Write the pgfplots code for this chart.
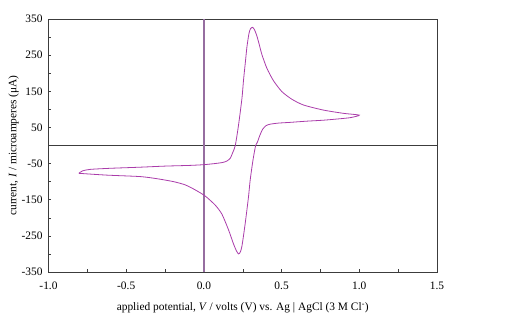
\documentclass[border=0pt]{standalone}
\usepackage{fontspec}
\setmainfont{Liberation Serif}
\usepackage{pgfplots}
\pgfplotsset{compat=1.18}
\definecolor{cvline}{RGB}{170,60,170}
\definecolor{zeroV}{RGB}{150,110,160}
\definecolor{frame}{RGB}{60,60,60}
\begin{document}
\begin{tikzpicture}[x=1pt,y=1pt]
\useasboundingbox (0,0) rectangle (522,321);
\begin{axis}[
  at={(48.5pt,49pt)}, anchor=south west,
  scale only axis, width=388.5pt, height=253pt,
  xmin=-1, xmax=1.5, ymin=-350, ymax=350,
  xtick={-1,-0.5,0,0.5,1,1.5},
  minor x tick num=1,
  ytick={-350,-250,-150,-50,50,150,250,350},
  minor y tick num=1,
  tick pos=left,
  tick align=inside,
  major tick length=2.5pt, minor tick length=2.5pt,
  tick style={frame, line width=0.5pt},
  axis line style={frame, line width=0.7pt},
  /pgf/number format/assume math mode=true,
  font=\fontsize{11.4}{13}\selectfont,
  xticklabel style={/pgf/number format/.cd, fixed, fixed zerofill, precision=1, /tikz/.cd, yshift=-6pt},
  yticklabel style={xshift=-2.5pt},
  xlabel={applied potential, \textit{V} / volts (V) vs. Ag | AgCl (3 M Cl\textsuperscript{-})},
  ylabel={current, \textit{I} / microamperes (μA)},
  xlabel style={at={(axis description cs:0.5,-0.142)}, anchor=center},
  ylabel style={at={(axis description cs:-0.09,0.5)}, anchor=center},
  clip=false,
]
\addplot[frame, line width=0.7pt] coordinates {(-1,0) (1.5,0)};
\addplot[zeroV, line width=1.2pt] coordinates {(0,-350) (0,350)};
\addplot[cvline, line width=0.8pt, smooth, tension=0.4] coordinates {
(-0.805,-77) (-0.78,-70) (-0.73,-66) (-0.6,-63) (-0.409,-60) (-0.25,-57) (-0.087,-55) (0,-53) (0.07,-50) (0.12,-47) (0.148,-43) (0.17,-35) (0.185,-20) (0.202,0) (0.223,57) (0.245,131) (0.255,181) (0.266,227) (0.277,273) (0.29,310) (0.30,323) (0.313,327) (0.326,320) (0.341,303) (0.357,278) (0.373,252) (0.405,214) (0.448,179) (0.502,149) (0.566,128) (0.641,112) (0.769,98) (0.898,89) (1.0,84)
(0.941,77) (0.85,73) (0.769,70) (0.65,67) (0.555,64) (0.48,62) (0.427,59) (0.40,55) (0.378,45) (0.36,28) (0.345,10) (0.333,0) (0.316,-40) (0.298,-95) (0.287,-142) (0.266,-215) (0.245,-278) (0.234,-295) (0.223,-300) (0.21,-292) (0.191,-273) (0.159,-234) (0.116,-190) (0.073,-165) (0.009,-140) (-0.055,-123) (-0.12,-109) (-0.195,-100) (-0.3,-92) (-0.409,-86) (-0.623,-82) (-0.805,-77)
};
\end{axis}
\end{tikzpicture}
\end{document}
